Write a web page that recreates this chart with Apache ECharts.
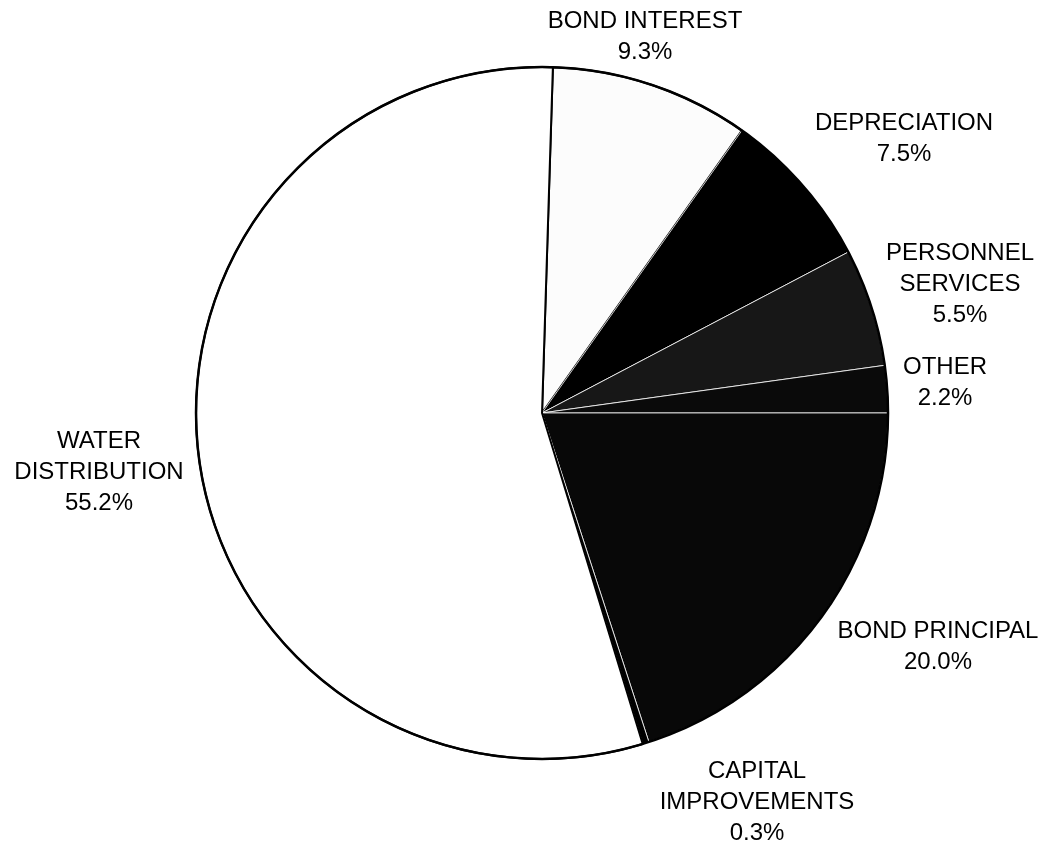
<!DOCTYPE html>
<html>
<head>
<meta charset="utf-8">
<script src="https://cdn.jsdelivr.net/npm/echarts@6/dist/echarts.min.js"></script>
<style>
  html, body { margin: 0; padding: 0; background: #ffffff; }
  #chart { width: 1048px; height: 848px; }
</style>
</head>
<body>
<div id="chart"></div>
<script>
// ---- data ----
var categories = ['BOND INTEREST', 'DEPRECIATION', 'PERSONNEL\nSERVICES', 'OTHER', 'BOND PRINCIPAL', 'CAPITAL\nIMPROVEMENTS', 'WATER\nDISTRIBUTION'];
var shares = [9.3, 7.5, 5.5, 2.2, 20.0, 0.3, 55.2];

// ---- styling (kept separate from data) ----
var sliceColors = ['#fcfcfc', '#000000', '#171717', '#0a0a0a', '#080808', '#000000', '#ffffff'];
var sliceBorders = ['#000000', '#ffffff', '#ffffff', '#ffffff', '#ffffff', '#ffffff', '#000000'];
var labelCenters = [[645, 37], [904, 139], [960, 284], [945, 383], [938, 647], [757, 802], [99, 472]];

var chart = echarts.init(document.getElementById('chart'), null, { renderer: 'canvas' });

var pieData = categories.map(function (name, i) {
  return {
    name: name,
    value: shares[i],
    itemStyle: { color: sliceColors[i], borderColor: sliceBorders[i], borderWidth: sliceBorders[i] === '#000000' ? 2 : 0.8 }
  };
});

var option = {
  backgroundColor: '#ffffff',
  animation: false,
  series: [
    {
      type: 'pie',
      center: ['51.72%', '48.7%'],
      radius: 346,
      startAngle: 88.2,
      clockwise: true,
      avoidLabelOverlap: false,
      minAngle: 0,
      data: pieData,
      label: {
        show: true,
        position: 'outside',
        color: '#000000',
        fontFamily: 'Liberation Sans, Arial, sans-serif',
        fontSize: 24,
        lineHeight: 31,
        align: 'center',
        formatter: function (p) { return p.name + '\n' + p.value.toFixed(1) + '%'; }
      },
      labelLine: { show: false },
      labelLayout: function (params) {
        var c = labelCenters[params.dataIndex];
        return { x: c[0], y: c[1], align: 'center', verticalAlign: 'middle' };
      },
      emphasis: { disabled: true }
    },
    {
      type: 'pie',
      silent: true,
      center: ['51.72%', '48.7%'],
      radius: 346,
      label: { show: false },
      labelLine: { show: false },
      data: [{ value: 1, name: 'outline', itemStyle: { color: 'rgba(0,0,0,0)', borderColor: '#000000', borderWidth: 2.5 } }],
      emphasis: { disabled: true }
    }
  ]
};

chart.setOption(option);
</script>
</body>
</html>
